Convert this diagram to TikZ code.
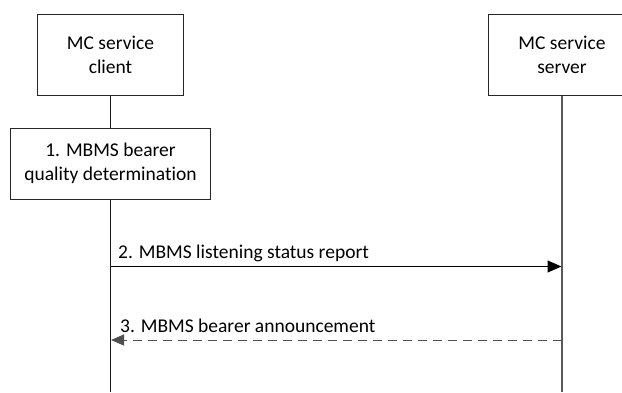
\documentclass[tikz,border=0pt]{standalone}
\usepackage{fontspec}
\setmainfont[Ligatures={NoCommon}]{Carlito}
\usetikzlibrary{arrows.meta}
\definecolor{lifegray}{HTML}{5A5A5A}
\definecolor{dashgray}{HTML}{505050}
\tikzset{
  entity/.style={draw=black!85, line width=1pt, rectangle, inner sep=0pt, align=center,
    font=\fontsize{19.5}{24}\selectfont},
  lifeline/.style={line width=1.1pt},
  msg/.style={line width=1pt, -{Triangle[length=14pt,width=12pt]}},
  reply/.style={line width=1pt, draw=dashgray, dash pattern=on 9pt off 6pt,
    -{Triangle[length=13pt,width=11pt,fill=dashgray]}},
  msglabel/.style={anchor=base west, inner sep=0pt, font=\fontsize{19.5}{24}\selectfont}
}
\begin{document}
\begin{tikzpicture}[x=1pt,y=-1pt]
\useasboundingbox (0,0) rectangle (622,392);
\node[entity, minimum width=146pt, minimum height=81pt] (client) at (110.5,54.5) {MC service\\client};
\node[entity, minimum width=148pt, minimum height=81pt] (server) at (562,54.5) {MC service\\server};
\node[entity, minimum width=200pt, minimum height=71pt] (step1) at (110.5,163.5) {1. MBMS bearer\\quality determination};
\coordinate (cend) at (110.5,392);
\coordinate (send) at (562,392);
\draw[lifeline, black!90] (client.south) -- (step1.north);
\draw[lifeline, black!90] (step1.south) -- (cend);
\draw[lifeline, lifegray] (server.south) -- (send);
\coordinate (c2) at (110.5,266.5);
\coordinate (s2) at (561.5,266.5);
\coordinate (c3) at (111,340);
\coordinate (s3) at (562,340);
\draw[msg] (c2) -- (s2);
\draw[reply] (s3) -- (c3);
\node[msglabel] (l2) at (118,258.5) {2. MBMS listening status report};
\node[msglabel] (l3) at (120,332.5) {3. MBMS bearer announcement};
\end{tikzpicture}
\end{document}
